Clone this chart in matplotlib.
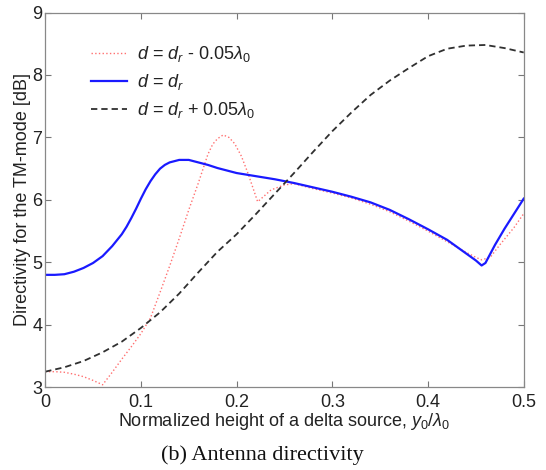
import numpy as np
import matplotlib
matplotlib.use("Agg")
import matplotlib.pyplot as plt

plt.rcParams['font.family'] = ['Liberation Sans', 'DejaVu Sans']
plt.rcParams['mathtext.fontset'] = 'custom'
plt.rcParams['mathtext.rm'] = 'Liberation Sans'
plt.rcParams['mathtext.it'] = 'Liberation Sans:italic'

# Directivity vs. normalized source height y0/lambda0, three gap widths d
x_minus = [0.000, 0.010, 0.020, 0.030, 0.040, 0.050, 0.060, 0.070, 0.080, 0.090,
           0.100, 0.110, 0.120, 0.130, 0.140, 0.150, 0.160, 0.170, 0.175, 0.180,
           0.186, 0.192, 0.198, 0.205, 0.212, 0.222, 0.236, 0.250, 0.260, 0.280,
           0.300, 0.320, 0.340, 0.360, 0.380, 0.400, 0.420, 0.440, 0.450, 0.456,
           0.465, 0.475, 0.490, 0.500]
d_minus = [3.25, 3.25, 3.24, 3.21, 3.17, 3.11, 3.04, 3.24, 3.45, 3.65,
           3.86, 4.11, 4.52, 4.94, 5.38, 5.84, 6.27, 6.73, 6.89, 6.98,
           7.04, 7.00, 6.90, 6.70, 6.42, 5.97, 6.16, 6.24, 6.26, 6.18,
           6.11, 6.03, 5.93, 5.81, 5.66, 5.50, 5.33, 5.16, 5.08, 5.04,
           5.08, 5.28, 5.56, 5.78]

x_res = [0.000, 0.010, 0.020, 0.030, 0.040, 0.050, 0.060, 0.070, 0.080, 0.085,
         0.090, 0.095, 0.100, 0.105, 0.110, 0.115, 0.120, 0.125, 0.130, 0.140,
         0.150, 0.160, 0.170, 0.180, 0.190, 0.200, 0.220, 0.240, 0.260, 0.280,
         0.300, 0.320, 0.340, 0.360, 0.380, 0.400, 0.420, 0.440, 0.450, 0.456,
         0.460, 0.470, 0.480, 0.490, 0.500]
d_res = [4.80, 4.80, 4.81, 4.85, 4.91, 4.99, 5.10, 5.26, 5.45, 5.57,
         5.71, 5.86, 6.02, 6.17, 6.30, 6.41, 6.50, 6.56, 6.60, 6.64,
         6.64, 6.60, 6.56, 6.51, 6.47, 6.43, 6.38, 6.33, 6.27, 6.20,
         6.13, 6.05, 5.96, 5.84, 5.69, 5.53, 5.36, 5.14, 5.03, 4.95,
         4.99, 5.28, 5.54, 5.78, 6.02]

x_plus = [0.000, 0.020, 0.040, 0.060, 0.080, 0.100, 0.120, 0.140, 0.160, 0.180,
          0.200, 0.220, 0.240, 0.260, 0.280, 0.300, 0.320, 0.340, 0.360, 0.380,
          0.400, 0.420, 0.440, 0.460, 0.480, 0.500]
d_plus = [3.25, 3.32, 3.42, 3.56, 3.73, 3.95, 4.20, 4.50, 4.84, 5.17,
          5.45, 5.77, 6.10, 6.43, 6.77, 7.10, 7.40, 7.68, 7.91, 8.11,
          8.30, 8.42, 8.47, 8.48, 8.43, 8.36]

labels = [r'$d$ = $d_r$ - 0.05$\lambda_0$',
          r'$d$ = $d_r$',
          r'$d$ = $d_r$ + 0.05$\lambda_0$']

fig = plt.figure(figsize=(5.46, 4.70), dpi=100)
ax = fig.add_axes([0.0828, 0.176, 0.8764, 0.7974])

ax.plot(x_minus, d_minus, ':', color='#ff7070', lw=1.0, label=labels[0])
ax.plot(x_res, d_res, '-', color='#1a1aff', lw=1.6, label=labels[1])
ax.plot(x_plus, d_plus, '--', color='#303030', lw=1.3, dashes=(3.5, 2.2),
        label=labels[2])

ax.set_xlim(0, 0.5)
ax.set_ylim(3, 9)
ax.set_xticks(np.arange(0, 0.51, 0.1))
ax.set_xticklabels(['0', '0.1', '0.2', '0.3', '0.4', '0.5'])
ax.set_yticks(range(3, 10))
ax.tick_params(direction='in', top=True, right=True, length=4, width=0.8,
               color='#777777', labelsize=13, labelcolor='#222222')
ax.tick_params(axis='x', pad=4.5)
ax.tick_params(axis='y', pad=2)
for s in ax.spines.values():
    s.set_color('#888888')
    s.set_linewidth(0.9)

ax.set_xlabel(r'Normalized height of a delta source, $y_0$/$\lambda_0$',
              fontsize=13, color='#222222', labelpad=0)
ax.set_ylabel('Directivity for the TM-mode [dB]', fontsize=13,
              color='#222222', labelpad=1)

leg = ax.legend(loc='upper left', bbox_to_anchor=(0.08, 0.935), frameon=False,
                fontsize=13, handlelength=2.0, handletextpad=0.55,
                labelspacing=0.45, borderaxespad=0)
for t in leg.get_texts():
    t.set_color('#222222')

fig.text(0.48, 0.032, '(b) Antenna directivity', ha='center', va='center',
         fontsize=16, family='Liberation Serif', color='#111111')

fig.savefig('out.png', dpi=100)
